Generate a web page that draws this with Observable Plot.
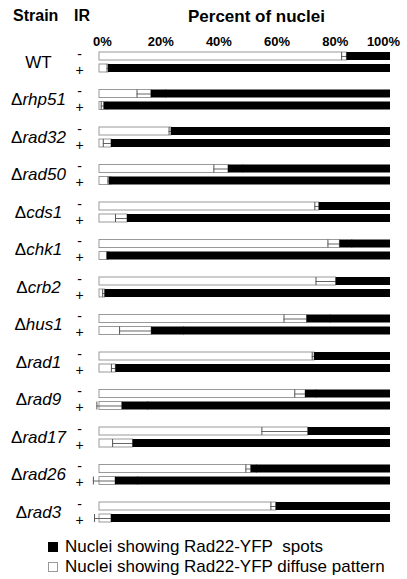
<!DOCTYPE html>
<html>
<head>
<meta charset="utf-8">
<script src="https://cdn.jsdelivr.net/npm/d3@7"></script>
<script src="https://cdn.jsdelivr.net/npm/@observablehq/plot@0.6"></script>
<style>
  body { margin: 0; background: white; font-family: Arial, "Liberation Sans", sans-serif; }
  #wrap { position: relative; width: 407px; height: 579px; overflow: hidden; }
  #chart { position: absolute; left: 0; top: 0; }
  .ttl { position: absolute; font-weight: bold; white-space: nowrap; line-height: 1; }
  .legend { position: absolute; left: 48px; top: 537px; font-size: 17px; line-height: 20px; white-space: nowrap; }
  .sw { display: inline-block; width: 10px; height: 10px; box-sizing: border-box; margin-right: 7px; vertical-align: 0px; }
  .sw.black { background: black; }
  .sw.white { background: white; border: 1px solid #999; }
</style>
</head>
<body>
<div id="wrap">
  <div id="chart"></div>
  <div class="ttl" style="left:13px; top:8px; font-size:16px;">Strain</div>
  <div class="ttl" style="left:74px; top:8px; font-size:16px;">IR</div>
  <div class="ttl" style="left:188px; top:8px; font-size:17px;">Percent of nuclei</div>
  <div class="legend">
    <div><span class="sw black"></span>Nuclei showing Rad22-YFP&nbsp; spots</div>
    <div><span class="sw white"></span>Nuclei showing Rad22-YFP diffuse pattern</div>
  </div>
</div>
<script>
const strains = ["WT","rhp51","rad32","rad50","cds1","chk1","crb2","hus1","rad1","rad9","rad17","rad26","rad3"];
const irLevels = ["-","+"];
// percent of nuclei with diffuse pattern (rest = spots), and error
const diffuseMinus = [85.0, 17.8, 24.7, 44.3, 75.5, 82.6, 81.3, 71.3, 73.9, 70.8, 71.7, 52.1, 60.7];
const errMinus     = [1.8, 4.9, 0.8, 5.0, 1.5, 4.1, 6.9, 7.9, 0.8, 3.7, 15.9, 1.8, 1.8];
const diffusePlus  = [3.1, 1.6, 4.1, 3.4, 9.6, 2.75, 1.9, 17.9, 5.6, 7.8, 11.5, 5.5, 4.1];
const errPlus      = [0.5, 1.0, 2.8, 0.5, 4.1, 0.3, 0.8, 11.0, 1.5, 8.7, 7.0, 7.6, 5.8];
const xTicks = [0, 20, 40, 60, 80];
const xTickLast = [100];

const rows = [];
strains.forEach((s, i) => {
  rows.push({strain: s, ir: "-", diffuse: diffuseMinus[i], spots: 100 - diffuseMinus[i], err: errMinus[i]});
  rows.push({strain: s, ir: "+", diffuse: diffusePlus[i], spots: 100 - diffusePlus[i], err: errPlus[i]});
});
const caps = rows.flatMap(d => [
  {strain: d.strain, ir: d.ir, x: d.diffuse - d.err},
  {strain: d.strain, ir: d.ir, x: d.diffuse + d.err}
]);

const font = 'Arial, "Liberation Sans", sans-serif';
const chart = Plot.plot({
  width: 407,
  height: 530,
  marginLeft: 99,
  marginRight: 17,
  marginTop: 52,
  marginBottom: 8,
  style: {fontFamily: font, background: "white", overflow: "visible"},
  x: {domain: [0, 100], axis: null},
  fy: {domain: strains, paddingInner: 0.4667, paddingOuter: 0, round: false, axis: null},
  y: {domain: irLevels, paddingInner: 0.3333, paddingOuter: 0, round: false, axis: null},
  marks: [
    Plot.axisX({anchor: "top", ticks: xTicks, tickFormat: d => d + "%", tickSize: 0, tickPadding: 7, dx: 3, fontSize: 13, fontWeight: "bold", fill: "black", label: null}),
    Plot.axisX({anchor: "top", ticks: xTickLast, tickFormat: d => d + "%", tickSize: 0, tickPadding: 7, dx: -7, fontSize: 13, fontWeight: "bold", fill: "black", label: null}),
    Plot.axisFy({anchor: "left", tickSize: 0, tickPadding: 61, textAnchor: "middle", fontSize: 17, fill: "black", label: null,
      tickFormat: d => d === "WT" ? "WT" : "\u0394" + d}),
    Plot.axisY({anchor: "left", ticks: ["-"], tickSize: 0, tickPadding: 20, textAnchor: "middle", fontSize: 14, dy: -2, fill: "black", label: null}),
    Plot.axisY({anchor: "left", ticks: ["+"], tickSize: 0, tickPadding: 20, textAnchor: "middle", fontSize: 14, dy: 2, fill: "black", label: null}),
    Plot.barX(rows, {x1: 0, x2: "diffuse", y: "ir", fy: "strain", fill: "white", stroke: "#999", strokeWidth: 1}),
    Plot.ruleY(rows, {x1: d => d.diffuse - d.err, x2: d => d.diffuse + d.err, y: "ir", fy: "strain", stroke: "#666", strokeWidth: 1}),
    Plot.tickX(caps, {x: "x", y: "ir", fy: "strain", stroke: "#555", strokeWidth: 1}),
    Plot.barX(rows, {x1: "diffuse", x2: d => d.diffuse + d.spots, y: "ir", fy: "strain", fill: "black"})
  ]
});
document.getElementById("chart").appendChild(chart);

// italicize gene names after the upright delta
chart.querySelectorAll('[aria-label="fy-axis tick label"] text').forEach(t => {
  const s = t.textContent;
  if (s.startsWith("\u0394")) {
    t.textContent = "";
    const ns = "http://www.w3.org/2000/svg";
    const a = document.createElementNS(ns, "tspan");
    a.textContent = "\u0394";
    const b = document.createElementNS(ns, "tspan");
    b.textContent = s.slice(1);
    b.setAttribute("font-style", "italic");
    t.appendChild(a); t.appendChild(b);
  }
});
</script>
</body>
</html>
